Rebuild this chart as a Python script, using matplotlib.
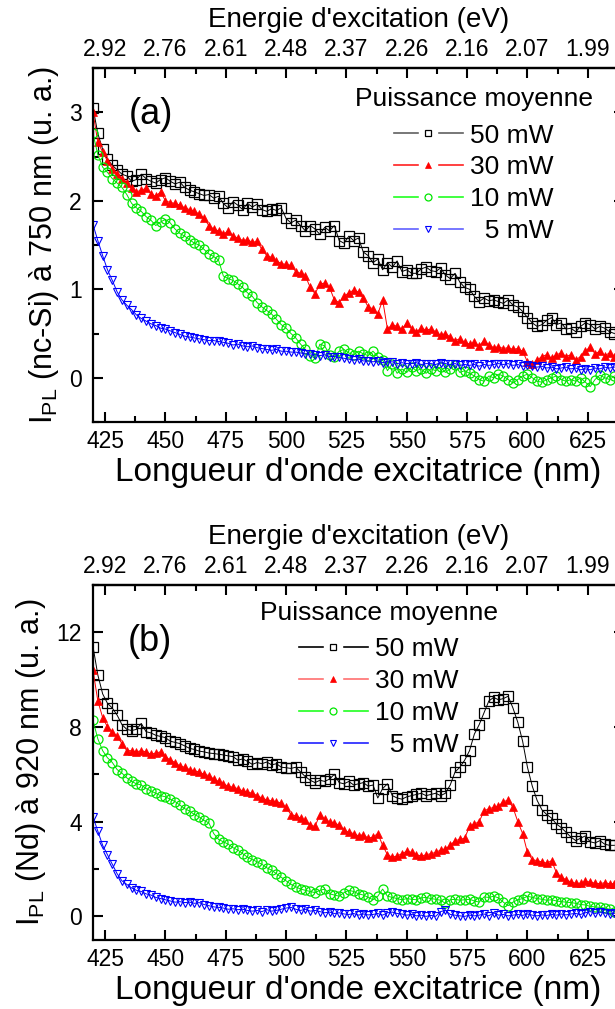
import numpy as np
import matplotlib.pyplot as plt
from matplotlib.lines import Line2D
from matplotlib.legend_handler import HandlerTuple
from matplotlib.ticker import MultipleLocator

plt.rcParams['font.family'] = ['Liberation Sans', 'DejaVu Sans']
plt.rcParams['mathtext.fontset'] = 'custom'
plt.rcParams['mathtext.rm'] = 'Liberation Sans'

# grille de longueurs d'onde (nm)
wl = np.arange(420, 637, 2)

# graduations de l'axe du haut (énergie en eV)
top_pos = [425, 450, 475, 500, 525, 550, 575, 600, 625]
top_lab = ['2.92', '2.76', '2.61', '2.48', '2.37', '2.26', '2.16', '2.07', '1.99']

powers = ['50 mW', '30 mW', '10 mW', '  5 mW']

# (a) I_PL (nc-Si) à 750 nm
a_50 = [3.05, 2.76, 2.58, 2.47, 2.40, 2.35, 2.30, 2.28, 2.22, 2.24, 2.30, 2.25, 2.22, 2.20, 2.24,
        2.26, 2.22, 2.19, 2.21, 2.15, 2.12, 2.10, 2.08, 2.06, 2.07, 2.03, 2.05, 1.97, 1.92, 1.99,
        1.95, 1.90, 1.97, 1.93, 1.96, 1.90, 1.88, 1.91, 1.89, 1.92, 1.80, 1.75, 1.78, 1.72, 1.66,
        1.72, 1.68, 1.62, 1.70, 1.66, 1.72, 1.55, 1.52, 1.60, 1.55, 1.58, 1.42, 1.38, 1.30, 1.34,
        1.22, 1.30, 1.25, 1.32, 1.20, 1.22, 1.18, 1.18, 1.23, 1.25, 1.21, 1.20, 1.24, 1.16, 1.12,
        1.18, 1.08, 1.02, 1.00, 0.92, 0.86, 0.90, 0.87, 0.88, 0.86, 0.84, 0.88, 0.82, 0.80, 0.75,
        0.68, 0.62, 0.58, 0.60, 0.65, 0.68, 0.60, 0.62, 0.55, 0.56, 0.52, 0.58, 0.62, 0.60, 0.55,
        0.58, 0.56, 0.52, 0.50]
a_30 = [3.00, 2.66, 2.55, 2.45, 2.36, 2.30, 2.25, 2.20, 2.14, 2.10, 2.12, 2.14, 2.08, 2.05, 2.10,
        2.00, 1.98, 1.97, 1.95, 1.92, 1.90, 1.88, 1.85, 1.80, 1.72, 1.68, 1.66, 1.62, 1.66, 1.60,
        1.58, 1.55, 1.56, 1.53, 1.54, 1.45, 1.38, 1.36, 1.32, 1.29, 1.28, 1.27, 1.20, 1.18, 1.15,
        1.02, 0.95, 1.06, 1.07, 1.02, 0.88, 0.85, 0.92, 0.96, 0.99, 0.97, 0.90, 0.80, 0.78, 0.72,
        0.88, 0.55, 0.60, 0.58, 0.55, 0.62, 0.55, 0.52, 0.56, 0.54, 0.55, 0.52, 0.48, 0.50, 0.46,
        0.42, 0.44, 0.40, 0.38, 0.40, 0.36, 0.42, 0.37, 0.34, 0.35, 0.33, 0.34, 0.32, 0.33, 0.30,
        0.18, 0.15, 0.20, 0.24, 0.26, 0.22, 0.26, 0.28, 0.24, 0.26, 0.20, 0.24, 0.30, 0.35, 0.27,
        0.30, 0.25, 0.28, 0.24]
a_10 = [2.76, 2.52, 2.38, 2.32, 2.25, 2.20, 2.15, 2.07, 1.97, 1.92, 1.88, 1.82, 1.78, 1.72, 1.76,
        1.79, 1.75, 1.68, 1.63, 1.60, 1.56, 1.52, 1.50, 1.45, 1.40, 1.37, 1.33, 1.15, 1.12, 1.10,
        1.06, 1.02, 0.96, 0.92, 0.85, 0.80, 0.76, 0.72, 0.66, 0.60, 0.56, 0.50, 0.45, 0.38, 0.32,
        0.25, 0.22, 0.38, 0.36, 0.26, 0.24, 0.30, 0.32, 0.28, 0.26, 0.30, 0.27, 0.25, 0.30, 0.24,
        0.20, 0.08, 0.16, 0.05, 0.10, 0.06, 0.12, 0.08, 0.10, 0.05, 0.10, 0.08, 0.12, 0.06, 0.10,
        0.14, 0.06, 0.08, 0.05, 0.02, -0.02, -0.04, 0.02, 0.00, 0.04, 0.02, -0.02, -0.06, -0.02, 0.02,
        0.04, 0.00, -0.04, -0.05, -0.02, 0.00, 0.02, -0.02, -0.04, -0.02, -0.04, 0.00, -0.05, -0.10, -0.02,
        0.03, 0.00, -0.02, 0.02]
a_5 = [1.73, 1.55, 1.38, 1.22, 1.10, 0.97, 0.88, 0.82, 0.77, 0.71, 0.67, 0.64, 0.61, 0.59, 0.56,
       0.55, 0.53, 0.51, 0.49, 0.47, 0.46, 0.45, 0.44, 0.43, 0.42, 0.42, 0.41, 0.40, 0.39, 0.37,
       0.38, 0.36, 0.35, 0.36, 0.34, 0.33, 0.32, 0.31, 0.32, 0.30, 0.30, 0.29, 0.29, 0.28, 0.27,
       0.27, 0.26, 0.25, 0.26, 0.24, 0.24, 0.23, 0.22, 0.21, 0.20, 0.21, 0.19, 0.19, 0.18, 0.19,
       0.17, 0.18, 0.18, 0.16, 0.17, 0.16, 0.16, 0.17, 0.15, 0.16, 0.16, 0.15, 0.17, 0.16, 0.15,
       0.16, 0.14, 0.15, 0.14, 0.15, 0.13, 0.15, 0.14, 0.15, 0.16, 0.15, 0.16, 0.14, 0.15, 0.13,
       0.14, 0.13, 0.12, 0.13, 0.11, 0.12, 0.10, 0.11, 0.12, 0.10, 0.11, 0.09, 0.10, 0.09, 0.11,
       0.10, 0.12, 0.11, 0.12]

# (b) I_PL (Nd) à 920 nm
b_50 = [11.4, 10.2, 9.4, 9.0, 8.8, 8.5, 8.1, 7.9, 7.85, 7.9, 8.15, 7.8, 7.75, 7.65, 7.6,
        7.55, 7.4, 7.35, 7.3, 7.2, 7.1, 7.05, 6.98, 6.95, 6.9, 6.88, 6.85, 6.82, 6.78, 6.75,
        6.6, 6.65, 6.55, 6.42, 6.5, 6.45, 6.52, 6.4, 6.45, 6.3, 6.28, 6.25, 6.3, 6.1, 5.9,
        5.75, 5.65, 5.75, 5.7, 5.8, 6.0, 5.65, 5.6, 5.7, 5.55, 5.6, 5.65, 5.5, 5.55, 5.0,
        5.4, 5.6, 5.1, 5.0, 4.95, 5.05, 5.1, 5.15, 5.2, 5.1, 5.15, 5.2, 5.1, 5.2, 5.55,
        6.1, 6.3, 6.6, 7.0, 7.7, 8.1, 8.6, 9.1, 9.25, 9.15, 9.2, 9.3, 8.8, 8.2, 7.4,
        6.3, 5.5, 4.9, 4.5, 4.3, 4.15, 3.9, 3.75, 3.55, 3.35, 3.2, 3.3, 3.4, 3.15, 3.1,
        3.2, 3.05, 3.0, 3.0]
b_30 = [10.4, 9.1, 8.4, 8.0, 7.8, 7.6, 7.3, 7.0, 7.0, 6.95, 7.0, 6.95, 6.85, 6.9, 6.95,
        6.75, 6.6, 6.5, 6.35, 6.3, 6.2, 6.15, 6.1, 6.0, 5.95, 5.8, 5.7, 5.6, 5.5, 5.45,
        5.4, 5.3, 5.25, 5.2, 5.1, 5.0, 4.92, 4.88, 4.85, 4.78, 4.6, 4.3, 4.25, 4.15, 4.05,
        3.85, 3.8, 4.3, 4.1, 4.0, 3.95, 3.85, 3.65, 3.55, 3.5, 3.4, 3.45, 3.3, 3.35, 3.5,
        3.0, 2.6, 2.5, 2.55, 2.65, 2.75, 2.7, 2.6, 2.55, 2.6, 2.65, 2.7, 2.8, 2.85, 3.0,
        3.2, 3.25, 3.3, 3.8, 3.9, 4.0, 4.45, 4.55, 4.6, 4.65, 4.85, 4.9, 4.6, 4.0, 3.5,
        2.7, 2.4, 2.35, 2.3, 2.25, 2.35, 1.85, 1.65, 1.55, 1.45, 1.4, 1.4, 1.48, 1.45, 1.4,
        1.38, 1.42, 1.38, 1.38]
b_10 = [8.28, 7.5, 7.0, 6.7, 6.5, 6.2, 6.05, 5.85, 5.7, 5.6, 5.55, 5.4, 5.3, 5.2, 5.1,
        5.05, 4.95, 4.85, 4.7, 4.55, 4.45, 4.3, 4.2, 4.05, 3.95, 3.5, 3.25, 3.15, 3.05, 2.9,
        2.8, 2.65, 2.5, 2.4, 2.3, 2.2, 2.05, 1.95, 1.8, 1.65, 1.5, 1.35, 1.25, 1.15, 1.1,
        1.05, 1.0, 1.1, 1.15, 0.95, 0.9, 0.85, 1.0, 1.1, 1.05, 0.95, 0.9, 0.8, 0.7, 0.85,
        1.15, 0.85, 0.8, 0.75, 0.7, 0.75, 0.72, 0.7, 0.78, 0.8, 0.75, 0.72, 0.68, 0.55, 0.7,
        0.72, 0.68, 0.7, 0.72, 0.65, 0.6, 0.82, 0.8, 0.85, 0.78, 0.6, 0.45, 0.6, 0.7, 0.75,
        0.85, 0.8, 0.75, 0.72, 0.68, 0.7, 0.65, 0.62, 0.6, 0.58, 0.55, 0.5, 0.48, 0.42, 0.4,
        0.38, 0.35, 0.3, 0.2]
b_5 = [4.2, 3.6, 3.0, 2.6, 2.2, 1.8, 1.5, 1.35, 1.2, 1.1, 1.05, 0.95, 0.9, 0.8, 0.75,
       0.7, 0.65, 0.6, 0.62, 0.58, 0.6, 0.55, 0.58, 0.5, 0.45, 0.4, 0.38, 0.35, 0.3, 0.32,
       0.28, 0.3, 0.25, 0.22, 0.25, 0.2, 0.28, 0.22, 0.25, 0.3, 0.35, 0.38, 0.3, 0.25, 0.3,
       0.22, 0.25, 0.2, 0.15, 0.18, 0.12, 0.15, 0.1, 0.08, 0.12, 0.05, 0.1, 0.06, 0.08, 0.12,
       0.05, 0.15, 0.18, 0.12, 0.1, 0.05, 0.08, 0.02, 0.05, 0.0, 0.04, 0.0, 0.2, 0.25, 0.08,
       0.05, 0.02, 0.0, 0.05, 0.02, 0.05, 0.1, 0.02, 0.15, 0.05, 0.08, 0.02, 0.05, 0.08, 0.04,
       0.1, 0.05, 0.02, 0.06, 0.04, 0.08, 0.05, 0.1, 0.06, 0.1, 0.12, 0.08, 0.15, 0.2, 0.12,
       0.18, 0.15, 0.1, 0.12]

W, H = 615, 1009
fig = plt.figure(figsize=(W / 100, H / 100), dpi=100)

styles = [
    dict(color='black', marker='s', ms=6.5, mfc='none', mew=0.9),
    dict(color='#ff0000', marker='^', ms=6, mfc='#ff0000', mew=0.5),
    dict(color='#00e600', marker='o', ms=6.5, mfc='none', mew=0.9),
    dict(color='#0000ff', marker='v', ms=5.5, mfc='none', mew=0.8),
]


def panel(rect, series, ylim, ymaj, ymin, ylabel, tag, tag_xy, leg_colors, leg_anchor):
    ax = fig.add_axes(rect)
    for y, st in zip(series, styles):
        ax.plot(wl, y, lw=0.7, **st)
    ax.set_xlim(420, 640)
    ax.set_ylim(*ylim)
    ax.xaxis.set_minor_locator(MultipleLocator(12.5))
    ax.set_xticks(top_pos)
    ax.yaxis.set_major_locator(MultipleLocator(ymaj))
    ax.yaxis.set_minor_locator(MultipleLocator(ymin))
    ax.tick_params(which='both', direction='in', right=True, width=1.5, labelsize=16.5)
    ax.tick_params(which='major', length=7.5)
    ax.tick_params(which='minor', length=4.5)
    ax.tick_params(axis='x', pad=6)
    ax.tick_params(axis='y', pad=8)
    for s in ax.spines.values():
        s.set_linewidth(1.6)
    ax.set_xlabel("Longueur d'onde excitatrice (nm)", fontsize=24, labelpad=3)
    ax.set_ylabel(ylabel, fontsize=22, labelpad=6)

    top = ax.secondary_xaxis('top')
    top.set_xticks(top_pos, labels=top_lab)
    top.xaxis.set_minor_locator(MultipleLocator(12.5))
    top.tick_params(which='both', direction='in', width=1.5, labelsize=16.5, pad=5)
    top.tick_params(which='major', length=7.5)
    top.tick_params(which='minor', length=4.5)
    top.spines['top'].set_linewidth(1.6)
    top.set_xlabel("Energie d'excitation (eV)", fontsize=20, labelpad=8)

    ax.text(*tag_xy, tag, transform=ax.transAxes, fontsize=26, ha='center', va='center')

    handles = []
    for c, st in zip(leg_colors, styles):
        ln = Line2D([], [], color=c, lw=1.2)
        mask = Line2D([], [], ls='none', marker='s', ms=13, mfc='white', mec='white')
        mk = Line2D([], [], ls='none', marker=st['marker'], ms=st['ms'] - 1.5,
                    mfc=st['mfc'], mec=st['color'], mew=st['mew'])
        handles.append((ln, mask, mk))
    leg = ax.legend(handles, powers, title='Puissance moyenne', frameon=False,
                    fontsize=19, title_fontsize=19, loc='upper left',
                    bbox_to_anchor=leg_anchor, handlelength=2.6, handletextpad=0.3,
                    labelspacing=0.3, borderpad=0, borderaxespad=0,
                    handler_map={tuple: HandlerTuple(ndivide=1)})
    leg._legend_box.align = 'center'
    leg._legend_box.sep = 9
    return ax


ax_w = (624 - 93) / W
panel([93 / W, 1 - 422 / H, ax_w, 354 / H], [a_50, a_30, a_10, a_5], (-0.5, 3.5), 1, 0.5,
      r'I$_{\mathrm{PL}}$ (nc-Si) à 750 nm (u. a.)', '(a)', (0.11, 0.87),
      ['#606060', '#ff2020', '#20ff20', '#6060ff'], ((355 - 93) / 531, (422 - 87) / 354))
panel([93 / W, 1 - 940 / H, ax_w, 355 / H], [b_50, b_30, b_10, b_5], (-1, 14), 4, 2,
      r'I$_{\mathrm{PL}}$ (Nd) à 920 nm (u. a.)', '(b)', (0.108, 0.84),
      ['black', '#ff7070', '#20ff20', '#2020ff'], ((260 - 93) / 531, (940 - 601) / 355))

fig.savefig('out.png', dpi=100, facecolor='white')
